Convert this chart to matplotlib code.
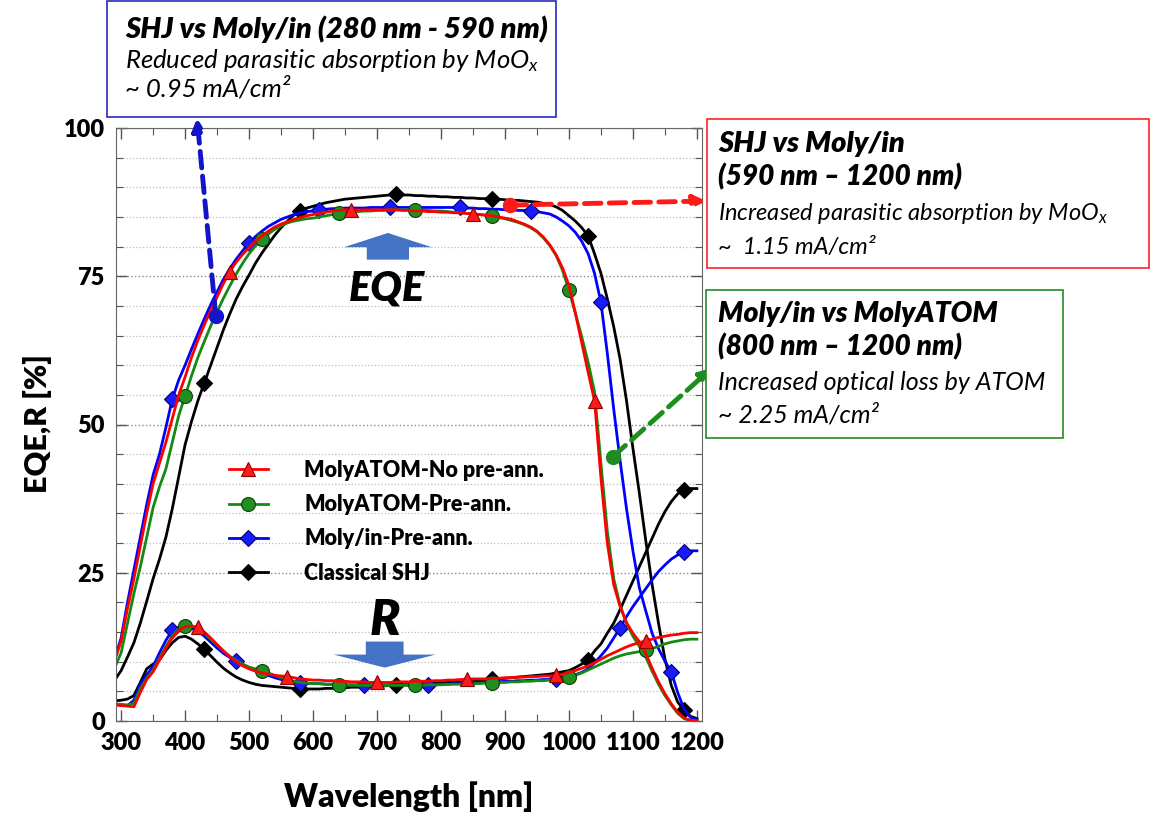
import numpy as np
import matplotlib.pyplot as plt
from matplotlib.patches import Rectangle, FancyArrow
from matplotlib.ticker import MultipleLocator
from matplotlib.lines import Line2D

W, H = 1151, 817

# wavelength grid [nm]
wl = np.arange(290, 1201, 10)

# EQE [%]
eqe_noann = [10.2,
    13.5, 19.0, 24.0, 29.5, 35.0, 40.0, 43.5, 47.0, 51.0, 55.0,
    58.0, 61.3, 64.2, 66.8, 69.2, 71.5, 73.8, 75.8, 77.4, 78.7,
    79.8, 80.9, 81.8, 82.6, 83.3, 83.8, 84.2, 84.6, 84.9, 85.2,
    85.4, 85.6, 85.8, 86.0, 86.1, 86.2, 86.2, 86.2, 86.2, 86.2,
    86.2, 86.2, 86.2, 86.2, 86.1, 86.1, 86.0, 86.0, 85.9, 85.9,
    85.8, 85.8, 85.7, 85.7, 85.6, 85.5, 85.4, 85.3, 85.2, 85.0,
    84.8, 84.6, 84.2, 83.8, 83.3, 82.6, 81.6, 80.3, 78.6, 76.4,
    73.5, 68.8, 63.8, 58.8, 54.0, 41.0, 30.0, 23.0, 19.3, 16.6,
    14.8, 13.4, 11.4, 8.9, 6.6, 4.6, 2.9, 1.5, 0.5, 0.1,
    0.0]
eqe_preann = [9.0,
    11.5, 16.5, 21.5, 26.0, 31.0, 36.0, 39.5, 42.5, 47.0, 51.5,
    54.8, 58.2, 61.3, 64.0, 66.6, 69.0, 71.3, 73.4, 75.4, 77.2,
    78.8, 80.1, 81.2, 82.1, 82.9, 83.5, 84.0, 84.3, 84.5, 84.7,
    84.8, 85.0, 85.2, 85.4, 85.6, 85.7, 85.8, 85.9, 86.0, 86.0,
    86.1, 86.1, 86.2, 86.2, 86.2, 86.2, 86.2, 86.1, 86.1, 86.0,
    86.0, 85.9, 85.8, 85.7, 85.6, 85.5, 85.4, 85.3, 85.1, 84.9,
    84.7, 84.4, 84.1, 83.7, 83.2, 82.5, 81.5, 80.2, 78.5, 76.0,
    72.6, 68.8, 64.8, 60.5, 55.5, 43.5, 32.0, 24.0, 19.5, 16.5,
    14.3, 12.6, 10.8, 8.4, 6.2, 4.3, 2.7, 1.3, 0.4, 0.1,
    0.0]
eqe_molyin = [10.5,
    14.0, 20.0, 25.5, 31.0, 36.5, 41.5, 45.0, 49.5, 54.3, 57.5,
    60.0, 62.7, 65.3, 67.8, 70.2, 72.4, 74.5, 76.3, 77.9, 79.3,
    80.6, 81.7, 82.6, 83.4, 84.0, 84.6, 85.0, 85.4, 85.7, 85.9,
    86.0, 86.2, 86.3, 86.4, 86.4, 86.5, 86.5, 86.5, 86.5, 86.6,
    86.6, 86.6, 86.6, 86.6, 86.6, 86.6, 86.6, 86.6, 86.6, 86.6,
    86.6, 86.6, 86.6, 86.6, 86.5, 86.5, 86.4, 86.4, 86.3, 86.3,
    86.2, 86.2, 86.1, 86.1, 86.0, 85.9, 85.7, 85.5, 85.0, 84.3,
    83.5, 82.4, 80.9, 78.8, 75.5, 70.6, 62.0, 52.6, 43.9, 35.8,
    28.7, 22.5, 18.6, 14.8, 12.2, 10.1, 8.3, 4.8, 2.0, 0.6,
    0.2]
eqe_shj = [6.9,
    8.5, 10.8, 13.2, 16.5, 20.2, 24.0, 27.3, 31.0, 35.8, 41.2,
    46.6, 50.5, 54.0, 57.0, 60.0, 63.0, 66.0, 68.7, 71.2, 73.3,
    75.2, 77.2, 78.9, 80.4, 81.9, 83.2, 84.3, 85.3, 86.0, 86.5,
    86.8, 87.1, 87.4, 87.6, 87.8, 88.0, 88.1, 88.2, 88.3, 88.4,
    88.5, 88.6, 88.7, 88.8, 88.7, 88.7, 88.6, 88.6, 88.5, 88.5,
    88.4, 88.4, 88.3, 88.3, 88.2, 88.2, 88.1, 88.1, 88.0, 88.0,
    87.9, 87.8, 87.8, 87.7, 87.6, 87.5, 87.3, 87.1, 86.7, 86.1,
    85.2, 84.3, 83.2, 81.8, 78.8, 75.5, 71.2, 66.5, 61.0, 54.0,
    46.0, 38.5, 30.5, 23.0, 16.5, 10.5, 6.0, 3.2, 1.8, 0.8,
    0.4]

# reflectance R [%]
r_noann = [2.7,
    2.6, 2.5, 2.4, 4.8, 7.0, 8.3, 10.3, 12.3, 14.0, 15.3,
    15.9, 16.0, 15.8, 15.0, 14.0, 12.9, 11.8, 10.8, 10.0, 9.3,
    8.8, 8.4, 8.1, 7.9, 7.7, 7.6, 7.5, 7.3, 7.1, 7.0,
    6.9, 6.9, 6.8, 6.8, 6.7, 6.7, 6.6, 6.6, 6.6, 6.5,
    6.5, 6.5, 6.5, 6.6, 6.6, 6.6, 6.7, 6.7, 6.7, 6.8,
    6.8, 6.9, 6.9, 7.0, 7.0, 7.1, 7.1, 7.1, 7.2, 7.2,
    7.3, 7.3, 7.4, 7.4, 7.5, 7.5, 7.6, 7.6, 7.7, 7.9,
    8.2, 8.5, 8.9, 9.3, 9.8, 10.4, 11.0, 11.5, 12.0, 12.5,
    12.9, 13.2, 13.5, 13.8, 14.1, 14.3, 14.5, 14.6, 14.8, 14.9,
    14.9]
r_preann = [2.9,
    2.8, 2.7, 3.0, 5.5, 7.2, 8.6, 10.6, 12.6, 14.3, 15.5,
    16.0, 16.0, 15.6, 14.8, 13.8, 12.8, 11.8, 10.9, 10.2, 9.6,
    9.1, 8.8, 8.5, 8.1, 7.7, 7.3, 7.0, 6.7, 6.5, 6.4,
    6.3, 6.3, 6.2, 6.2, 6.1, 6.1, 6.0, 6.0, 6.0, 6.0,
    6.0, 6.0, 6.0, 6.0, 6.0, 6.0, 6.0, 6.0, 6.1, 6.1,
    6.1, 6.2, 6.2, 6.2, 6.3, 6.3, 6.3, 6.4, 6.4, 6.5,
    6.5, 6.6, 6.6, 6.7, 6.7, 6.8, 6.8, 6.9, 7.0, 7.2,
    7.4, 7.7, 8.1, 8.6, 9.1, 9.6, 10.1, 10.6, 11.0, 11.3,
    11.5, 11.7, 11.9, 12.2, 12.6, 13.0, 13.3, 13.5, 13.7, 13.8,
    13.8]
r_molyin = [2.8,
    2.7, 2.6, 3.5, 6.2, 7.8, 9.2, 11.5, 13.6, 15.3, 15.8,
    15.9, 15.6, 15.2, 14.3, 13.3, 12.3, 11.4, 10.7, 10.1, 9.5,
    9.0, 8.5, 8.1, 7.7, 7.3, 7.0, 6.8, 6.6, 6.4, 6.4,
    6.3, 6.3, 6.2, 6.2, 6.1, 6.1, 6.1, 6.1, 6.1, 6.1,
    6.1, 6.1, 6.1, 6.1, 6.1, 6.1, 6.1, 6.1, 6.1, 6.1,
    6.2, 6.2, 6.3, 6.3, 6.4, 6.4, 6.5, 6.5, 6.6, 6.6,
    6.7, 6.7, 6.8, 6.8, 6.9, 6.9, 7.0, 7.0, 7.1, 7.3,
    7.5, 7.8, 8.2, 8.8, 9.8, 11.0, 12.3, 14.0, 15.7, 17.6,
    19.3, 20.8, 22.3, 23.8, 25.2, 26.3, 27.3, 28.0, 28.5, 28.7,
    28.7]
r_shj = [3.4,
    3.5, 3.7, 4.3, 6.5, 8.8, 9.6, 10.3, 11.9, 13.2, 14.1,
    14.3, 13.8, 13.0, 12.1, 11.0, 9.9, 8.9, 8.1, 7.4, 6.9,
    6.5, 6.2, 6.0, 5.9, 5.8, 5.7, 5.6, 5.5, 5.4, 5.4,
    5.4, 5.4, 5.5, 5.5, 5.6, 5.6, 5.7, 5.7, 5.8, 5.8,
    5.9, 5.9, 6.0, 6.0, 6.1, 6.1, 6.2, 6.2, 6.3, 6.4,
    6.4, 6.5, 6.6, 6.6, 6.7, 6.8, 6.8, 6.9, 7.0, 7.1,
    7.2, 7.3, 7.4, 7.5, 7.6, 7.7, 7.8, 7.9, 8.1, 8.3,
    8.5, 9.0, 9.6, 10.3, 11.8, 13.0, 14.8, 16.5, 18.8, 21.2,
    23.6, 26.0, 28.4, 30.8, 33.2, 35.3, 37.0, 38.3, 39.0, 39.2,
    39.2]

# wavelengths that carry a marker
mk_eqe_noann = [470, 660, 850, 1040]
mk_r_noann = [420, 560, 700, 840, 980, 1120]
mk_eqe_preann = [400, 520, 640, 760, 880, 1000]
mk_r_preann = [400, 520, 640, 760, 880, 1000, 1120]
mk_eqe_molyin = [380, 500, 610, 720, 830, 940, 1050, 1160]
mk_r_molyin = [380, 480, 580, 680, 780, 880, 980, 1080, 1180]
mk_eqe_shj = [430, 580, 730, 880, 1030, 1180]
mk_r_shj = [430, 580, 730, 880, 1030, 1180]

labels = ["MolyATOM-No pre-ann.", "MolyATOM-Pre-ann.", "Moly/in-Pre-ann.", "Classical SHJ"]

plt.rcParams['font.family'] = ['Lato', 'DejaVu Sans']
plt.rcParams['mathtext.fontset'] = 'custom'
plt.rcParams['mathtext.it'] = 'Lato:italic'
plt.rcParams['mathtext.rm'] = 'Lato:italic'

HEAVY = 'heavy'


def px(x, y):
    return (x / W, 1 - y / H)


fig = plt.figure(figsize=(W / 100, H / 100), dpi=100)
ax = fig.add_axes([116 / W, 1 - 721 / H, 586 / W, 593 / H])

wl_list = list(wl)
series = [
    # eqe, r, eqe marks, r marks, line colour, marker, face, edge, size
    (eqe_shj, r_shj, mk_eqe_shj, mk_r_shj, '#000000', 'D', '#000000', '#000000', 8),
    (eqe_molyin, r_molyin, mk_eqe_molyin, mk_r_molyin, '#0000ff', 'D', '#1a1aff', '#00006e', 8),
    (eqe_preann, r_preann, mk_eqe_preann, mk_r_preann, '#138a13', 'o', '#1f8f1f', '#0b400b', 10),
    (eqe_noann, r_noann, mk_eqe_noann, mk_r_noann, '#ff0000', '^', '#ff1a1a', '#8b0000', 10),
]
handles = []
for eqe, r, me, mr, col, mk, fc, ec, ms in series:
    style = dict(color=col, lw=2.0, marker=mk, ms=ms, mfc=fc, mec=ec, mew=0.8)
    ax.plot(wl, eqe, markevery=[wl_list.index(v) for v in me], **style)
    ax.plot(wl, r, markevery=[wl_list.index(v) for v in mr], **style)
    handles.append(Line2D([], [], **style))
handles = handles[::-1]

ax.set_xlim(292, 1208)
ax.set_ylim(0, 100)
ax.xaxis.set_major_locator(MultipleLocator(100))
ax.xaxis.set_minor_locator(MultipleLocator(50))
ax.yaxis.set_major_locator(MultipleLocator(25))
ax.yaxis.set_minor_locator(MultipleLocator(5))
ax.tick_params(which='both', direction='in', top=True, right=True, color='#555555')
ax.tick_params(which='major', length=8, width=1, labelsize=17, pad=8)
ax.tick_params(which='minor', length=5, width=0.8)
for lbl in ax.get_xticklabels() + ax.get_yticklabels():
    lbl.set_fontweight(HEAVY)
ax.grid(axis='y', which='minor', ls=':', color='#bdbdbd', lw=0.9)
ax.grid(axis='y', which='major', ls=':', color='#8a8a8a', lw=1.0)
ax.set_axisbelow(True)
for sp in ax.spines.values():
    sp.set_color('#666666')

leg = ax.legend(handles, labels, loc='upper left', bbox_to_anchor=px(218, 449),
                bbox_transform=fig.transFigure, frameon=False, borderpad=0,
                handlelength=1.8, handletextpad=1.7, labelspacing=0.62,
                prop=dict(size=15.5, weight=HEAVY))

# EQE / R block arrows
arrow_col = '#4472c4'
ax.add_patch(FancyArrow(717, 77.8, 0, 4.5, width=66, head_width=137, head_length=2.4,
                        length_includes_head=True, color=arrow_col, lw=0))
ax.add_patch(FancyArrow(712, 13.4, 0, -4.4, width=59, head_width=159, head_length=2.2,
                        length_includes_head=True, color=arrow_col, lw=0))
ax.text(715, 72.9, "EQE", fontsize=30, fontweight=HEAVY, style='italic', ha='center', va='center')
ax.text(712, 17.0, "R", fontsize=36, fontweight=HEAVY, style='italic', ha='center', va='center')

fig.text(*px(37, 424), "EQE,R [%]", rotation=90, fontsize=22, fontweight=HEAVY, ha='center', va='center')
fig.text(*px(409, 797), "Wavelength [nm]", fontsize=23, fontweight=HEAVY, ha='center', va='center')


# annotation boxes
def box(x0, y0, x1, y1, col):
    fig.patches.append(Rectangle(px(x0, y1), (x1 - x0) / W, (y1 - y0) / H,
                                 transform=fig.transFigure, facecolor='white',
                                 edgecolor=col, lw=1.2, zorder=5))


def lines(x, ys, texts, sizes):
    for y, t, s in zip(ys, texts, sizes):
        bold = s > 19
        fig.text(*px(x, y), t, fontsize=s, fontweight=HEAVY if bold else 'normal',
                 style='italic', va='baseline', ha='left', zorder=6)


blue_c, red_c, green_c = '#2a2ac0', '#ff2020', '#228b22'
box(107, 1, 556, 117, blue_c)
lines(125, [38, 68, 97],
      ["SHJ vs Moly/in (280 nm - 590 nm)", r"Reduced parasitic absorption by MoO$_x$", "~ 0.95 mA/cm²"],
      [21, 18.5, 18.5])
box(707, 119, 1149, 268, red_c)
lines(718, [152, 185, 220, 254],
      ["SHJ vs Moly/in", "(590 nm – 1200 nm)", r"Increased parasitic absorption by MoO$_x$", "~  1.15 mA/cm²"],
      [21, 20.2, 17, 17])
box(706, 290, 1063, 438, green_c)
lines(718, [322, 355, 390, 423],
      ["Moly/in vs MolyATOM", "(800 nm – 1200 nm)", "Increased optical loss by ATOM", "~ 2.25 mA/cm²"],
      [20.5, 20.2, 18, 18])

# dashed pointer arrows
for start, end, col in [((448, 68.3), (197, 118), '#1414c8'),
                        ((908, 87.0), (706, 201), '#ff1a1a'),
                        ((1069, 44.6), (712, 368), '#1e8c1e')]:
    ax.plot(*start, 'o', color=col, ms=10, clip_on=False, zorder=7)
    ax.annotate('', xy=px(*end), xycoords='figure fraction', xytext=start, textcoords='data',
                arrowprops=dict(arrowstyle='-|>,head_length=0.7,head_width=0.35', ls=(0, (3.4, 1.7)),
                                lw=3.5, color=col, shrinkA=0, shrinkB=0), zorder=7)

fig.savefig('out.png', dpi=100)
